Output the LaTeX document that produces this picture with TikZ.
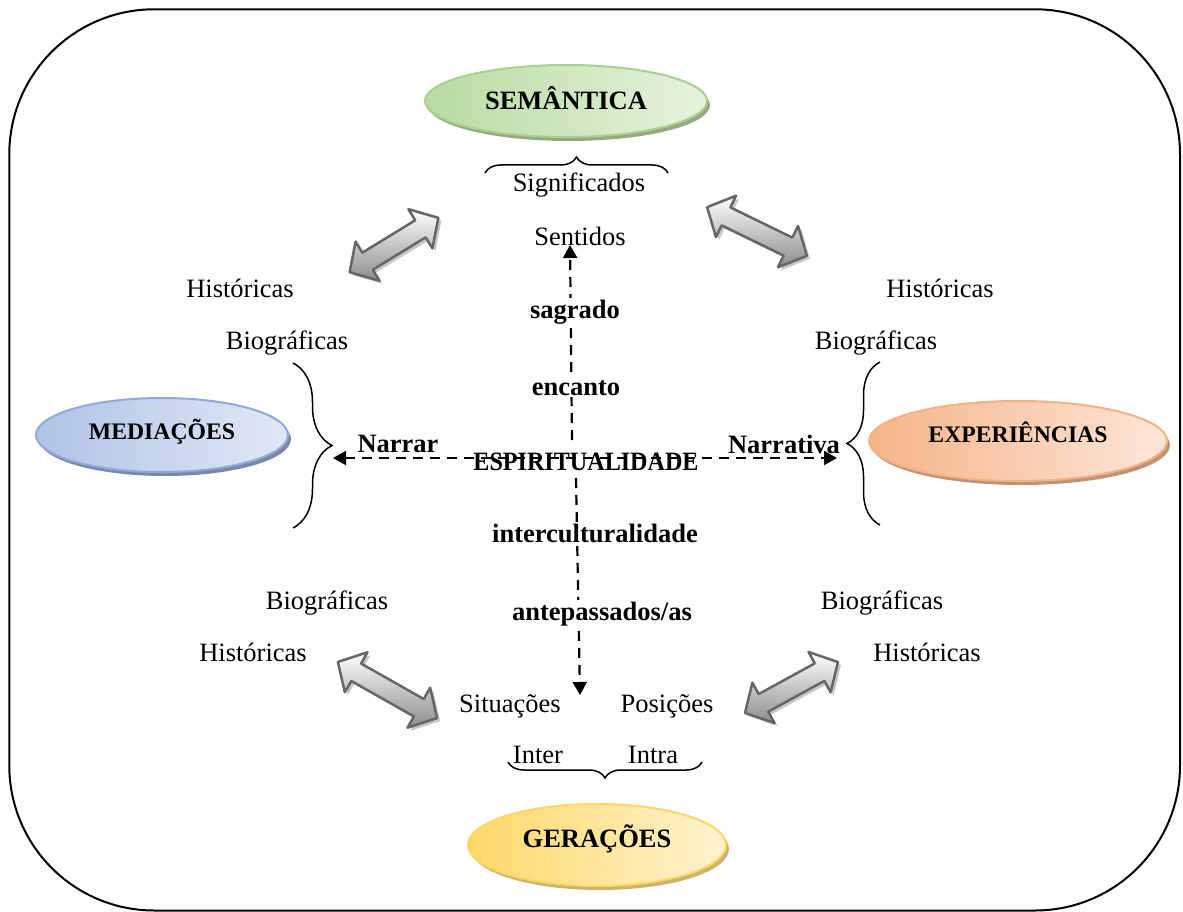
\documentclass[tikz,border=0pt]{standalone}
\usepackage{fontspec}
\setmainfont{Liberation Serif}
\newfontfamily\narrowserif[FakeStretch=0.91]{Liberation Serif}
\usetikzlibrary{shapes.geometric,decorations.pathreplacing,arrows.meta}

% ellipse colours: left tint, right tint, rim, shadow
\definecolor{semL}{RGB}{184,219,160}
\definecolor{semR}{RGB}{230,242,222}
\definecolor{semEdge}{RGB}{170,208,142}
\definecolor{semShadow}{RGB}{150,168,132}
\definecolor{medL}{RGB}{176,195,229}
\definecolor{medR}{RGB}{224,232,246}
\definecolor{medEdge}{RGB}{143,170,220}
\definecolor{medShadow}{RGB}{122,136,165}
\definecolor{expL}{RGB}{244,180,136}
\definecolor{expR}{RGB}{252,230,216}
\definecolor{expEdge}{RGB}{244,177,131}
\definecolor{expShadow}{RGB}{190,148,118}
\definecolor{gerL}{RGB}{255,216,104}
\definecolor{gerR}{RGB}{255,243,208}
\definecolor{gerEdge}{RGB}{255,214,96}
\definecolor{gerShadow}{RGB}{200,180,112}

\tikzset{
  Flowhead/.tip={Triangle[length=13pt,width=14pt]},
  lbl/.style={font=\fontsize{26.5}{30}\selectfont, inner sep=0pt, anchor=base},
  blbl/.style={lbl, font=\fontsize{26.5}{30}\selectfont\bfseries},
  keyword/.style={blbl, fill=white, inner sep=2pt},
  blob/.style={ellipse, inner sep=0pt, line width=2pt},
  bigtext/.style={font=\fontsize{26.5}{30}\selectfont\bfseries},
  midtext/.style={font=\fontsize{23.7}{28}\selectfont\bfseries},
  flow/.style={line width=2.2pt, line cap=butt, dash pattern=on 10pt off 7pt},
  curly/.style={decorate, decoration={brace, amplitude=#1}, line width=1.5pt},
  arrowbody/.style={draw=black!60, line width=2.5pt, line join=round,
                    top color=white, bottom color=black!45},
  arrowshade/.style={fill=black!22},
}

% double-headed block arrow: centre x, centre y, direction (deg), half length
\newcommand\blockarrow[4]{%
  \begin{scope}[shift={(#1+3,#2+3)}, x={(#3:1pt)}, y={(#3+90:1pt)}]
    \fill[arrowshade] (#4,0) -- (#4-21,23) -- (#4-21,10) -- (-#4+21,10) -- (-#4+21,23)
      -- (-#4,0) -- (-#4+21,-23) -- (-#4+21,-10) -- (#4-21,-10) -- (#4-21,-23) -- cycle;
  \end{scope}
  \begin{scope}[shift={(#1,#2)}, x={(#3:1pt)}, y={(#3+90:1pt)}]
    \path[arrowbody] (#4,0) -- (#4-21,23) -- (#4-21,10) -- (-#4+21,10) -- (-#4+21,23)
      -- (-#4,0) -- (-#4+21,-23) -- (-#4+21,-10) -- (#4-21,-10) -- (#4-21,-23) -- cycle;
  \end{scope}}

\begin{document}
\begin{tikzpicture}[x=1pt,y=-1pt]
\useasboundingbox (0,0) rectangle (1183,912);

% outer frame
\draw[line width=2pt, rounded corners=145pt] (9.3,9.3) rectangle (1180,910.5);

% ---- ellipses with their shadows
\fill[semShadow] (569,105) ellipse [x radius=141, y radius=36];
\node[blob, bigtext, draw=semEdge, left color=semL, right color=semR,
      minimum width=282pt, minimum height=72pt, text height=17.5pt, text depth=0pt]
      (sem) at (566,101) {SEMÂNTICA};

\fill[medShadow] (165,439) ellipse [x radius=126, y radius=37];
\node[blob, midtext, draw=medEdge, left color=medL, right color=medR,
      minimum width=252pt, minimum height=74pt, text height=16pt, text depth=8pt]
      (med) at (162,435) {MEDIAÇÕES};

\fill[expShadow] (1021,445) ellipse [x radius=149, y radius=40];
\node[blob, midtext, draw=expEdge, left color=expL, right color=expR,
      minimum width=298pt, minimum height=80pt, text height=16pt, text depth=14pt]
      (exp) at (1018,441) {EXPERIÊNCIAS};

\fill[gerShadow] (600,849) ellipse [x radius=129, y radius=41];
\node[blob, bigtext, draw=gerEdge, left color=gerL, right color=gerR,
      minimum width=258pt, minimum height=82pt, text height=17.5pt, text depth=13pt]
      (ger) at (597,845) {GERAÇÕES};

% ---- braces
\draw[curly=16pt] (485,173) -- (668,173);
\draw[curly=39pt] (293,363) -- (293,528);
\draw[curly=33pt] (880,525) -- (880,362);
\draw[curly=16pt] (702,762) -- (508,762);

% ---- plain labels
\node[lbl] (sig) at (579,192) {Significados};
\node[lbl] (sen) at (580,245) {Sentidos};

\node[lbl] (histTL) at (240,297) {Históricas};
\node[lbl] (bioTL) at (287,349) {Biográficas};
\node[lbl] (histTR) at (940,297) {Históricas};
\node[lbl] (bioTR) at (876,349) {Biográficas};

\node[lbl] (bioBL) at (327,609) {Biográficas};
\node[lbl] (histBL) at (253,661) {Históricas};
\node[lbl] (bioBR) at (882,609) {Biográficas};
\node[lbl] (histBR) at (927,661) {Históricas};

\node[lbl] (sit) at (510,712) {Situações};
\node[lbl] (pos) at (667,712) {Posições};
\node[lbl] (inter) at (538,763) {Inter};
\node[lbl] (intra) at (653,763) {Intra};

\node[blbl] (narrar) at (398,452) {Narrar};
\node[blbl] (narrativa) at (784,453) {Narrativa};
\node[blbl, font=\fontsize{26.5}{30}\narrowserif\bfseries] (espir) at (586,470) {ESPIRITUALIDADE};

% ---- block arrows
\blockarrow{394}{245}{31.5}{52}
\blockarrow{757}{231.5}{154}{55.5}
\blockarrow{387.5}{690}{150.5}{57}
\blockarrow{791.5}{687.5}{28.7}{53}

% ---- dashed flows
\coordinate (upFrom) at (572,440);
\coordinate (upTo) at (570,245);
\coordinate (downFrom) at (576,478);
\coordinate (downTo) at (580,695);
\coordinate (leftTo) at (333,458);
\coordinate (rightTo) at (837,458);

\draw[flow, -Flowhead] (upFrom) -- (upTo);
\draw[flow, -Flowhead] (downFrom) -- (downTo);
\draw[flow, Flowhead-Flowhead] (leftTo) -- (rightTo);

% keywords along the vertical flow
\node[keyword] (sagrado) at (575,318) {sagrado};
\node[keyword] (encanto) at (576,395) {encanto};
\node[keyword] (intercult) at (595,542) {interculturalidade};
\node[keyword] (antepass) at (602,620) {antepassados/as};
\end{tikzpicture}
\end{document}
